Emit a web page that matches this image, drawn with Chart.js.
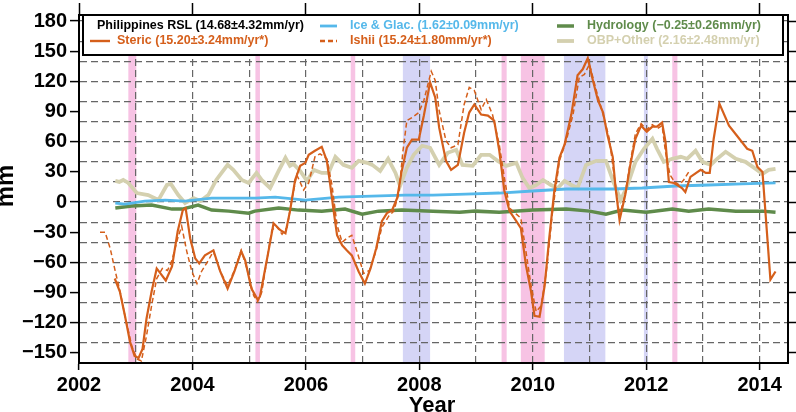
<!DOCTYPE html>
<html>
<head>
<meta charset="utf-8">
<script src="https://cdn.jsdelivr.net/npm/chart.js@4.4.1/dist/chart.umd.min.js"></script>
<style>
  html, body { margin: 0; padding: 0; background: #fff; }
  #wrap { position: relative; width: 796px; height: 412px; }
</style>
</head>
<body>
<div id="wrap"><canvas id="chart" width="796" height="412"></canvas></div>
<script>
// values (year, mm)
const stericYears = [2002.63, 2002.72, 2002.81, 2002.90, 2002.98, 2003.05, 2003.12, 2003.19, 2003.28, 2003.37,
  2003.53, 2003.64, 2003.74, 2003.83, 2003.88, 2003.96, 2004.05, 2004.12, 2004.22, 2004.37,
  2004.49, 2004.62, 2004.74, 2004.86, 2004.93, 2005.04, 2005.15, 2005.19, 2005.25, 2005.34,
  2005.43, 2005.55, 2005.64, 2005.72, 2005.81, 2005.90, 2005.99, 2006.05, 2006.16, 2006.28,
  2006.37, 2006.43, 2006.49, 2006.55, 2006.64, 2006.72, 2006.81, 2006.93, 2007.04, 2007.14,
  2007.24, 2007.34, 2007.43, 2007.52, 2007.61, 2007.69, 2007.78, 2007.87, 2007.99, 2008.08,
  2008.19, 2008.28, 2008.35, 2008.47, 2008.56, 2008.68, 2008.79, 2008.88, 2008.97, 2009.09,
  2009.21, 2009.32, 2009.41, 2009.50, 2009.59, 2009.71, 2009.79, 2009.88, 2009.97, 2010.03,
  2010.12, 2010.21, 2010.29, 2010.38, 2010.47, 2010.56, 2010.68, 2010.79, 2010.88, 2010.97,
  2011.06, 2011.15, 2011.24, 2011.32, 2011.41, 2011.46, 2011.53, 2011.63, 2011.72, 2011.81,
  2011.91, 2012.01, 2012.11, 2012.19, 2012.28, 2012.34, 2012.40, 2012.49, 2012.63, 2012.69,
  2012.78, 2012.96, 2013.05, 2013.12, 2013.19, 2013.29, 2013.46, 2013.60, 2013.78, 2013.87,
  2013.96, 2014.05, 2014.19, 2014.28];
const stericValues = [-76, -89, -113, -139, -153, -155, -146, -116, -89, -66,
  -78, -64, -29, -8, -6, -36, -56, -61, -53, -48,
  -69, -86, -69, -49, -58, -86, -97, -94, -76, -49,
  -21, -28, -31, -9, 22, 36, 39, 47, 51, 55,
  41, 17, -9, -33, -43, -48, -53, -69, -81, -66,
  -46, -19, -11, -8, 4, 31, 54, 62, 62, 86,
  119, 104, 74, 41, 32, 37, 69, 89, 97, 87,
  86, 81, 51, 11, -9, -19, -26, -63, -89, -113,
  -114, -83, -36, 11, 44, 57, 87, 126, 132, 143,
  121, 101, 89, 66, 45, 14, -18, 7, 37, 63,
  76, 70, 75, 75, 79, 60, 20, 19, 14, 10,
  25, 32, 29, 29, 63, 98, 76, 66, 53, 51,
  35, 30, -77, -69];

const ishiiYears = [2002.37, 2002.46, 2002.55, 2002.64, 2002.72, 2002.81, 2002.93, 2003.02, 2003.10, 2003.19,
  2003.28, 2003.37, 2003.47, 2003.56, 2003.64, 2003.74, 2003.81, 2003.90, 2003.99, 2004.08,
  2004.16, 2004.28, 2004.37, 2004.49, 2004.62, 2004.74, 2004.86, 2004.96, 2005.08, 2005.15,
  2005.22, 2005.30, 2005.40, 2005.48, 2005.58, 2005.67, 2005.75, 2005.84, 2005.96, 2006.05,
  2006.16, 2006.25, 2006.37, 2006.46, 2006.55, 2006.64, 2006.72, 2006.81, 2006.90, 2007.02,
  2007.12, 2007.24, 2007.34, 2007.46, 2007.55, 2007.64, 2007.71, 2007.78, 2007.87, 2007.99,
  2008.08, 2008.21, 2008.28, 2008.35, 2008.47, 2008.56, 2008.68, 2008.79, 2008.88, 2008.97,
  2009.09, 2009.18, 2009.29, 2009.41, 2009.50, 2009.59, 2009.71, 2009.79, 2009.88, 2009.97,
  2010.06, 2010.15, 2010.24, 2010.35, 2010.47, 2010.59, 2010.71, 2010.82, 2010.91, 2011.00,
  2011.12, 2011.24, 2011.35, 2011.45, 2011.53, 2011.63, 2011.72, 2011.81, 2011.91, 2012.01,
  2012.11, 2012.20, 2012.28, 2012.34, 2012.42, 2012.50, 2012.58, 2012.66, 2012.75];
const ishiiValues = [-30, -30, -46, -69, -88, -113, -143, -156, -158, -133,
  -103, -76, -66, -68, -58, -36, -24, -49, -69, -81,
  -69, -58, -49, -69, -83, -68, -48, -66, -93, -99,
  -90, -62, -28, -24, -32, -25, 2, 27, 12, 19,
  45, 48, 43, 17, -23, -40, -36, -33, -49, -71,
  -68, -48, -25, -14, -9, 9, 50, 81, 84, 89,
  101, 130, 121, 91, 61, 54, 57, 97, 114, 111,
  92, 102, 87, 57, 24, -6, -12, -16, -49, -83,
  -109, -103, -69, -9, 41, 61, 87, 124, 127, 137,
  111, 87, 63, 20, -14, 8, 40, 68, 78, 72,
  77, 73, 76, 50, 27, 20, 17, 22, 30];

const iceYears = [2002.64, 2002.81, 2003.16, 2003.52, 2003.87, 2004.34, 2004.69, 2005.10, 2005.46, 2005.99,
  2006.58, 2007.16, 2007.75, 2008.24, 2008.82, 2009.41, 2010.00, 2010.59, 2011.41, 2011.93,
  2012.52, 2013.10, 2013.69, 2014.28];
const iceValues = [-1, -2, 1, 2, 1, 4, 4, 4, 5, 2,
  5, 6, 7, 7, 8, 9, 11, 13, 13, 14,
  16, 17, 18, 19];

const hydroYears = [2002.64, 2002.93, 2003.28, 2003.64, 2003.82, 2004.10, 2004.34, 2004.64, 2004.99, 2005.10,
  2005.52, 2005.87, 2006.28, 2006.69, 2006.99, 2007.28, 2007.69, 2008.24, 2008.71, 2008.99,
  2009.41, 2010.00, 2010.59, 2011.00, 2011.29, 2011.58, 2012.00, 2012.46, 2012.75, 2013.10,
  2013.58, 2014.05, 2014.28];
const hydroValues = [-6, -4, -3, -7, -7, -3, -8, -9, -11, -9,
  -6, -8, -9, -7, -12, -9, -8, -9, -10, -9,
  -10, -8, -7, -9, -12, -8, -10, -7, -9, -7,
  -9, -9, -10];

const obpYears = [2002.64, 2002.71, 2002.78, 2002.87, 2003.02, 2003.22, 2003.40, 2003.55, 2003.62, 2003.75,
  2003.87, 2004.02, 2004.14, 2004.28, 2004.42, 2004.62, 2004.72, 2004.87, 2004.99, 2005.13,
  2005.22, 2005.37, 2005.52, 2005.64, 2005.72, 2005.78, 2005.90, 2006.02, 2006.14, 2006.28,
  2006.40, 2006.52, 2006.66, 2006.81, 2006.93, 2007.08, 2007.17, 2007.31, 2007.45, 2007.58,
  2007.66, 2007.78, 2007.90, 2008.05, 2008.19, 2008.35, 2008.50, 2008.65, 2008.76, 2008.94,
  2009.09, 2009.24, 2009.38, 2009.53, 2009.71, 2009.82, 2009.94, 2010.06, 2010.18, 2010.32,
  2010.44, 2010.56, 2010.68, 2010.79, 2010.94, 2011.12, 2011.29, 2011.43, 2011.55, 2011.66,
  2011.81, 2011.96, 2012.11, 2012.19, 2012.31, 2012.46, 2012.61, 2012.72, 2012.87, 2012.99,
  2013.14, 2013.25, 2013.40, 2013.58, 2013.75, 2013.93, 2014.05, 2014.16, 2014.28];
const obpValues = [21, 20, 22, 19, 9, 7, 2, 17, 18, 7,
  -1, 4, 1, 7, 22, 37, 32, 22, 19, 29,
  22, 14, 31, 44, 36, 38, 31, 21, 32, 29,
  29, 45, 37, 34, 41, 39, 37, 31, 43, 29,
  16, 34, 47, 56, 54, 37, 49, 52, 37, 36,
  47, 47, 41, 36, 39, 24, 14, 17, 22, 17,
  14, 21, 17, 14, 37, 41, 41, 19, 2, 15,
  40, 53, 63, 53, 40, 43, 45, 43, 51, 40,
  37, 43, 50, 43, 40, 33, 28, 32, 33];

// shaded periods (decimal years)
const pinkStart = [2002.87, 2005.11, 2006.79, 2009.45, 2009.79, 2012.46];
const pinkEnd = [2003.01, 2005.19, 2006.87, 2009.54, 2010.21, 2012.55];
const blueStart = [2007.71, 2010.55, 2011.96];
const blueEnd = [2008.19, 2011.28, 2012.03];

const yearTicks = [2002, 2004, 2006, 2008, 2010, 2012, 2014];
const mmTicks = [-150, -120, -90, -60, -30, 0, 30, 60, 90, 120, 150, 180];

const toPoints = (xs, ys) => xs.map((x, i) => ({ x: x, y: ys[i] }));

const ORANGE = "#d55f1b";
const FONT = "'Liberation Sans', Arial, sans-serif";

const bandsPlugin = {
    id: "bands",
    beforeDraw(chart) {
        const { ctx, chartArea, scales } = chart;
        const drawBands = (starts, ends, color) => {
            ctx.fillStyle = color;
            starts.forEach((s, i) => {
                const x1 = scales.x.getPixelForValue(s);
                const x2 = scales.x.getPixelForValue(ends[i]);
                ctx.fillRect(x1, chartArea.top, x2 - x1, chartArea.bottom - chartArea.top);
            });
        };
        ctx.save();
        drawBands(pinkStart, pinkEnd, "#f7c3e4");
        drawBands(blueStart, blueEnd, "#d5d5f6");
        ctx.restore();
    }
};

const legendPlugin = {
    id: "boxLegend",
    afterDraw(chart) {
        const { ctx } = chart;
        ctx.save();
        ctx.fillStyle = "#fff";
        ctx.fillRect(83, 15, 700, 40);
        ctx.strokeStyle = "#000";
        ctx.lineWidth = 2;
        ctx.strokeRect(83, 15, 700, 40);

        const cols = [90, 320, 557];
        const rows = [26, 41];
        ctx.font = "bold 12.5px " + FONT;
        ctx.textBaseline = "middle";
        chart.data.datasets.forEach((ds, i) => {
            const col = cols[i % 3];
            const y = rows[Math.floor(i / 3)];
            if (ds.noSymbol) {
                ctx.fillStyle = "#000";
                ctx.fillText(ds.label, col + 7, y);
                return;
            }
            ctx.beginPath();
            ctx.strokeStyle = ds.borderColor;
            ctx.lineWidth = Math.max(ds.borderWidth, 2.4);
            ctx.setLineDash(ds.borderDash || []);
            ctx.moveTo(col, y);
            ctx.lineTo(col + (i % 3 === 0 ? 20 : 17), y);
            ctx.stroke();
            ctx.setLineDash([]);
            ctx.fillStyle = ds.borderColor;
            ctx.fillText(ds.label, col + (i % 3 === 0 ? 27 : 30), y);
        });

        // axis titles
        ctx.fillStyle = "#000";
        ctx.font = "bold 22px " + FONT;
        ctx.textAlign = "center";
        ctx.textBaseline = "alphabetic";
        ctx.fillText("Year", 432, 412);
        ctx.translate(13, 186);
        ctx.rotate(-Math.PI / 2);
        ctx.font = "bold 24px " + FONT;
        ctx.fillText("mm", 0, 0);
        ctx.restore();
    }
};

const fixSize = (prop, size) => (scale) => { scale[prop] = size; };

new Chart(document.getElementById("chart"), {
    type: "line",
    data: {
        datasets: [
            { label: "Philippines RSL (14.68\u00b14.32mm/yr)", data: [], noSymbol: true, borderColor: "#000", borderWidth: 0, order: 5 },
            { label: "Ice & Glac. (1.62\u00b10.09mm/yr)", data: toPoints(iceYears, iceValues), borderColor: "#55b8ea", borderWidth: 2.8, order: 2 },
            { label: "Hydrology (\u22120.25\u00b10.26mm/yr)", data: toPoints(hydroYears, hydroValues), borderColor: "#5f8b4b", borderWidth: 3.5, order: 3 },
            { label: "Steric (15.20\u00b13.24mm/yr*)", data: toPoints(stericYears, stericValues), borderColor: ORANGE, borderWidth: 2.2, order: 0 },
            { label: "Ishii (15.24\u00b11.80mm/yr*)", data: toPoints(ishiiYears, ishiiValues), borderColor: ORANGE, borderWidth: 1.5, borderDash: [5, 3], order: 1 },
            { label: "OBP+Other (2.16\u00b12.48mm/yr)", data: toPoints(obpYears, obpValues), borderColor: "#d4d0af", borderWidth: 3.8, order: 4 }
        ]
    },
    options: {
        responsive: false,
        animation: false,
        events: [],
        layout: { padding: 0 },
        elements: { point: { radius: 0 }, line: { tension: 0, fill: false } },
        plugins: { legend: { display: false }, tooltip: { enabled: false } },
        scales: {
            x: {
                type: "linear",
                position: "bottom",
                min: 2002,
                max: 2014.5,
                afterFit: fixSize("height", 49),
                ticks: {
                    stepSize: 1,
                    includeBounds: false,
                    autoSkip: false,
                    maxRotation: 0,
                    padding: 3,
                    color: "#000",
                    font: { family: FONT, size: 20, weight: "bold" },
                    callback: (v) => yearTicks.includes(v) ? String(v) : ""
                },
                grid: {
                    color: (c) => c.tick && Number.isInteger(c.tick.value) && c.tick.value > 2002 ? "#666" : "transparent",
                    lineWidth: 1.2,
                    tickLength: 7,
                    tickWidth: 1.5,
                    tickColor: (c) => c.tick && yearTicks.includes(c.tick.value) ? "#000" : "transparent"
                },
                border: { display: true, color: "#000", width: 2, dash: [7, 4] }
            },
            x2: {
                type: "linear",
                position: "top",
                min: 2002,
                max: 2014.5,
                afterFit: fixSize("height", 12),
                ticks: { stepSize: 1, includeBounds: false, autoSkip: false, display: false },
                grid: {
                    drawOnChartArea: false,
                    tickLength: 12,
                    tickWidth: 1.5,
                    tickColor: (c) => c.tick && yearTicks.includes(c.tick.value) ? "#000" : "transparent"
                },
                border: { display: true, color: "#000", width: 2 }
            },
            y: {
                position: "left",
                min: -160,
                max: 186,
                afterFit: fixSize("width", 79),
                ticks: {
                    stepSize: 10,
                    includeBounds: false,
                    autoSkip: false,
                    padding: 3,
                    color: "#000",
                    font: { family: FONT, size: 20, weight: "bold" },
                    callback: (v) => mmTicks.includes(v) ? String(v).replace("-", "\u2212") : ""
                },
                grid: {
                    color: (c) => c.tick && c.tick.value % 20 === 0 && c.tick.value > -160 ? "#666" : "transparent",
                    lineWidth: 1.2,
                    tickLength: 9,
                    tickWidth: 1.5,
                    tickColor: (c) => c.tick && mmTicks.includes(c.tick.value) ? "#000" : "transparent"
                },
                border: { display: true, color: "#000", width: 2, dash: [7, 4] }
            },
            y2: {
                position: "right",
                min: -160,
                max: 186,
                afterFit: fixSize("width", 8),
                ticks: { stepSize: 10, includeBounds: false, autoSkip: false, display: false },
                grid: {
                    drawOnChartArea: false,
                    tickLength: 8,
                    tickWidth: 1.5,
                    tickColor: (c) => c.tick && mmTicks.includes(c.tick.value) ? "#000" : "transparent"
                },
                border: { display: true, color: "#000", width: 2 }
            }
        }
    },
    plugins: [bandsPlugin, legendPlugin]
});
</script>
</body>
</html>
